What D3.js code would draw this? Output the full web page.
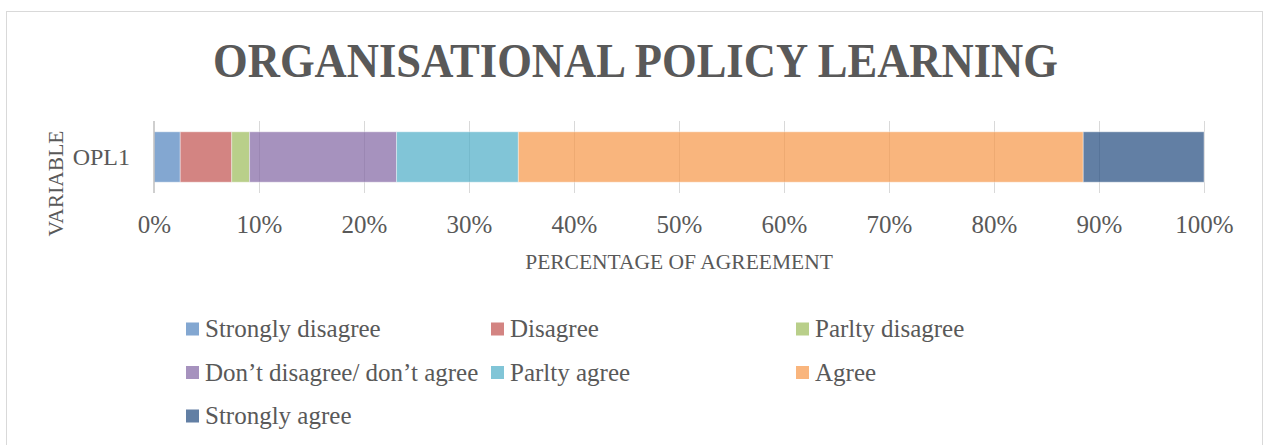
<!DOCTYPE html>
<html>
<head>
<meta charset="utf-8">
<script src="https://cdn.jsdelivr.net/npm/d3@7"></script>
<style>
  html, body { margin: 0; padding: 0; background: #fff; }
  svg { display: block; }
  text { font-family: "Liberation Serif", "DejaVu Serif", serif; fill: #595959; }
</style>
</head>
<body>
<div id="chart"></div>
<script>
// Données (en %)
const categories = ['OPL1'];
const seriesNames = [
  'Strongly disagree',
  'Disagree',
  'Parlty disagree',
  'Don\u2019t disagree/ don\u2019t agree',
  'Parlty agree',
  'Agree',
  'Strongly agree'
];
const seriesValues = [[2.5, 4.9, 1.7, 14.0, 11.6, 53.8, 11.5]];
const seriesColors = ['#4F81BD', '#C0504D', '#9BBB59', '#8064A2', '#4BACC6', '#F79646', '#1F497D'];
const tickValues = [0, 10, 20, 30, 40, 50, 60, 70, 80, 90, 100];
const tickLabels = ['0%', '10%', '20%', '30%', '40%', '50%', '60%', '70%', '80%', '90%', '100%'];

const width = 1265;
const height = 445;
const plot = { left: 154, right: 1204, top: 121, bottom: 193 };

const svg = d3.select('#chart')
  .append('svg')
  .attr('width', width)
  .attr('height', height);

// Cadre du graphique
svg.append('rect')
  .attr('x', 6.5)
  .attr('y', 11.5)
  .attr('width', 1256)
  .attr('height', 500)
  .attr('fill', '#fff')
  .attr('stroke', '#D9D9D9')
  .attr('stroke-width', 1);

// Titre
svg.append('text')
  .attr('x', 635.5)
  .attr('y', 77)
  .attr('text-anchor', 'middle')
  .attr('font-size', '48px')
  .attr('font-weight', 'bold')
  .attr('textLength', 845)
  .attr('lengthAdjust', 'spacingAndGlyphs')
  .text('ORGANISATIONAL POLICY LEARNING');

const xScale = d3.scaleLinear()
  .domain([0, 100])
  .range([plot.left, plot.right]);

const yScale = d3.scaleBand()
  .domain(categories)
  .range([plot.top, plot.bottom])
  .paddingInner(0.3)
  .paddingOuter(0.15);

// Grille verticale
const grid = svg.append('g')
  .attr('transform', `translate(0,${plot.bottom})`)
  .call(d3.axisBottom(xScale)
    .tickValues(tickValues.filter(v => v > 0))
    .tickSize(-(plot.bottom - plot.top))
    .tickFormat(''));
grid.select('.domain').remove();
grid.selectAll('line').attr('stroke', '#D9D9D9').attr('stroke-width', 1);

// Barres empilées
const rows = categories.map((c, i) => {
  const row = { category: c };
  seriesNames.forEach((s, j) => { row[s] = seriesValues[i][j]; });
  return row;
});
const stacked = d3.stack().keys(seriesNames)(rows);

const layers = svg.selectAll('.layer')
  .data(stacked)
  .enter()
  .append('g')
  .attr('class', 'layer')
  .attr('fill', (d, i) => seriesColors[i])
  .attr('fill-opacity', 0.7);

layers.selectAll('rect')
  .data(d => d)
  .enter()
  .append('rect')
  .attr('x', d => xScale(d[0]))
  .attr('width', d => xScale(d[1]) - xScale(d[0]))
  .attr('y', d => yScale(d.data.category))
  .attr('height', yScale.bandwidth())
  .attr('stroke', '#fff')
  .attr('stroke-opacity', 0.4)
  .attr('stroke-width', 1);

// Axe vertical (0%)
svg.append('line')
  .attr('x1', xScale(0))
  .attr('x2', xScale(0))
  .attr('y1', plot.top)
  .attr('y2', plot.bottom)
  .attr('stroke', '#BFBFBF')
  .attr('stroke-width', 1.5);

// Étiquettes de l'axe X
const xAxis = svg.append('g')
  .attr('transform', `translate(0,${plot.bottom})`)
  .call(d3.axisBottom(xScale)
    .tickValues(tickValues)
    .tickSize(0)
    .tickFormat((d, i) => tickLabels[i]));
xAxis.select('.domain').remove();
xAxis.selectAll('text')
  .attr('y', 40)
  .attr('dy', 0)
  .attr('font-size', '25px')
  .attr('font-family', '"Liberation Serif", serif')
  .attr('fill', '#595959');

// Étiquettes de catégorie
const yAxis = svg.append('g')
  .attr('transform', `translate(${plot.left},0)`)
  .call(d3.axisLeft(yScale).tickSize(0).tickPadding(24));
yAxis.select('.domain').remove();
yAxis.selectAll('text')
  .attr('font-size', '24px')
  .attr('font-family', '"Liberation Serif", serif')
  .attr('fill', '#595959')
  .attr('dy', '0.33em');

// Titres d'axes
svg.append('text')
  .attr('x', (plot.left + plot.right) / 2)
  .attr('y', 269)
  .attr('text-anchor', 'middle')
  .attr('font-size', '21.5px')
  .text('PERCENTAGE OF AGREEMENT');

svg.append('text')
  .attr('transform', 'translate(63,183.5) rotate(-90)')
  .attr('text-anchor', 'middle')
  .attr('font-size', '21.5px')
  .text('VARIABLE');

// Légende
const legend = svg.append('g');
const legendItems = legend.selectAll('.legend-item')
  .data(seriesNames)
  .enter()
  .append('g')
  .attr('class', 'legend-item')
  .attr('transform', (d, i) => `translate(${186 + (i % 3) * 305},${337 + Math.floor(i / 3) * 43.5})`);

legendItems.append('rect')
  .attr('x', 0)
  .attr('y', -14.5)
  .attr('width', 13)
  .attr('height', 13)
  .attr('fill', (d, i) => seriesColors[i])
  .attr('fill-opacity', 0.7);

legendItems.append('text')
  .attr('x', 19)
  .attr('y', 0)
  .attr('font-size', '25px')
  .text(d => d);
</script>
</body>
</html>
